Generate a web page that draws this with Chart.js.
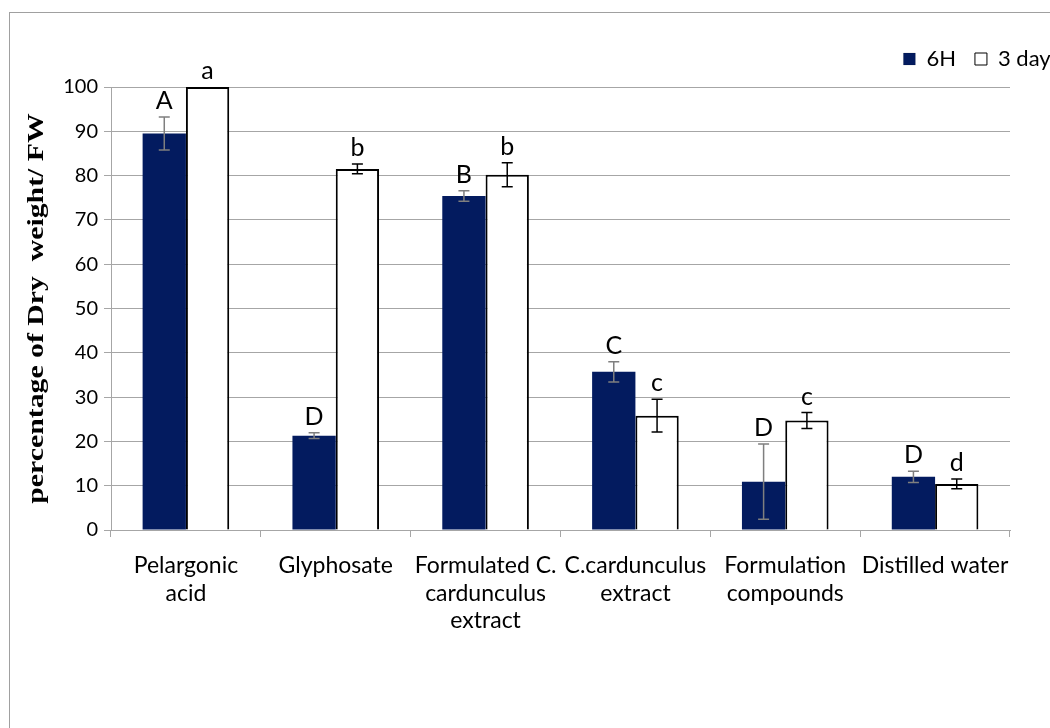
<!DOCTYPE html>
<html>
<head>
<meta charset="utf-8">
<script src="https://cdn.jsdelivr.net/npm/chart.js@4.4.1/dist/chart.umd.min.js"></script>
<style>
  html, body { margin: 0; padding: 0; background: #ffffff; overflow: hidden; }
  #wrap { position: relative; width: 1079px; height: 728px; }
</style>
</head>
<body>
<div id="wrap"><canvas id="chart"></canvas></div>
<script>
// Treatments on the x axis (multi-line labels)
const categories = [
  ['Pelargonic', 'acid'],
  ['Glyphosate'],
  ['Formulated C.', 'cardunculus', 'extract'],
  ['C.cardunculus', 'extract'],
  ['Formulation', 'compounds'],
  ['Distilled water']
];
const seriesNames = ['6H', '3 days'];

// Mean dry weight as % of fresh weight
const values6H   = [89.5, 21.3, 75.4, 35.7, 10.9, 12.0];
const values3d   = [100.0, 81.5, 80.2, 25.8, 24.7, 10.4];

// Error bar half-lengths
const err6H = [3.7, 0.65, 1.2, 2.3, 8.5, 1.25];
const err3d = [0, 1.1, 2.7, 3.7, 1.8, 1.1];

// Significance letters above each bar
const letters6H = ['A', 'D', 'B', 'C', 'D', 'D'];
const letters3d = ['a', 'b', 'b', 'c', 'c', 'd'];

// Value axis
const yMin = 0, yMax = 100, yStep = 10;
const yTitle = 'percentage of Dry  weight/ FW';

const NAVY = '#031b5f';
const GRID = '#a6a6a6';

// Gray frame around the whole figure
const framePlugin = {
  id: 'frame',
  beforeDraw(chart) {
    const ctx = chart.ctx;
    ctx.save();
    ctx.strokeStyle = '#a0a0a0';
    ctx.lineWidth = 1;
    ctx.strokeRect(9.5, 12.5, 3000, 3000);
    ctx.restore();
  }
};

// Leave a little extra room below the legend row
const legendGapPlugin = {
  id: 'legendGap',
  beforeLayout(chart) {
    const lg = chart.legend;
    if (lg && !lg.__gapPatched) {
      const fit = lg.fit;
      lg.fit = function () { fit.call(this); this.height += 7; };
      lg.__gapPatched = true;
    }
  }
};

// Error bars and significance letters, positioned through the chart scales
const annotatePlugin = {
  id: 'annotate',
  afterDatasetsDraw(chart) {
    const ctx = chart.ctx;
    const y = chart.scales.y;
    chart.data.datasets.forEach((ds, di) => {
      const meta = chart.getDatasetMeta(di);
      meta.data.forEach((bar, i) => {
        const v = ds.data[i];
        const e = ds.errors[i];
        const x = bar.x;
        ctx.save();
        if (e > 0) {
          const yHi = y.getPixelForValue(v + e);
          const yLo = y.getPixelForValue(v - e);
          ctx.strokeStyle = ds.errorColor;
          ctx.lineWidth = 1.5;
          ctx.beginPath();
          ctx.moveTo(x, yHi); ctx.lineTo(x, yLo);
          ctx.moveTo(x - 5.5, yHi); ctx.lineTo(x + 5.5, yHi);
          ctx.moveTo(x - 5.5, yLo); ctx.lineTo(x + 5.5, yLo);
          ctx.stroke();
        }
        const top = y.getPixelForValue(v + e);
        ctx.fillStyle = '#000000';
        ctx.font = '25px Lato';
        ctx.textAlign = 'center';
        ctx.textBaseline = 'alphabetic';
        ctx.fillText(ds.letters[i], x, top - 8);
        ctx.restore();
      });
    });
  }
};

// Rotated bold serif title for the value axis
const yTitlePlugin = {
  id: 'yTitle',
  afterDraw(chart) {
    const ctx = chart.ctx;
    const a = chart.chartArea;
    ctx.save();
    ctx.translate(37, (a.top + a.bottom) / 2);
    ctx.rotate(-Math.PI / 2);
    ctx.scale(1.24, 1);
    ctx.font = 'bold 24px "Liberation Serif"';
    ctx.fillStyle = '#000000';
    ctx.textAlign = 'center';
    ctx.textBaseline = 'middle';
    ctx.fillText(yTitle, 0, 0);
    ctx.restore();
  }
};

new Chart(document.getElementById('chart'), {
  type: 'bar',
  data: {
    labels: categories,
    datasets: [
      {
        label: seriesNames[0],
        data: values6H,
        errors: err6H,
        letters: letters6H,
        errorColor: '#7f7f7f',
        backgroundColor: NAVY,
        borderWidth: 0,
        categoryPercentage: 0.578,
        barPercentage: 1.0
      },
      {
        label: seriesNames[1],
        data: values3d,
        errors: err3d,
        letters: letters3d,
        errorColor: '#000000',
        backgroundColor: '#ffffff',
        borderColor: '#000000',
        borderWidth: 2,
        borderSkipped: 'start',
        categoryPercentage: 0.578,
        barPercentage: 1.0
      }
    ]
  },
  options: {
    responsive: true,
    maintainAspectRatio: false,
    animation: false,
    layout: { padding: { top: 29, left: 0, right: 0, bottom: 0 } },
    plugins: {
      tooltip: { enabled: false },
      legend: {
        position: 'top',
        align: 'end',
        labels: {
          boxWidth: 12,
          boxHeight: 12,
          padding: 19,
          color: '#000000',
          font: { family: 'Lato', size: 22 },
          generateLabels(chart) {
            const items = Chart.defaults.plugins.legend.labels.generateLabels(chart);
            items.forEach(it => { it.lineWidth = 1; });
            return items;
          }
        }
      }
    },
    scales: {
      x: {
        offset: true,
        grid: {
          offset: true,
          drawOnChartArea: false,
          drawTicks: true,
          tickLength: 7,
          color: GRID
        },
        border: { color: GRID, width: 1 },
        ticks: {
          color: '#000000',
          font: { family: 'Lato', size: 23, lineHeight: 1.2 },
          maxRotation: 0,
          autoSkip: false,
          padding: 15
        },
        afterFit(scale) { scale.height = 198; }
      },
      y: {
        min: yMin,
        max: yMax,
        grid: { color: GRID, lineWidth: 1, tickLength: 7, drawTicks: true },
        border: { color: GRID, width: 1 },
        ticks: {
          stepSize: yStep,
          color: '#000000',
          font: { family: 'Lato', size: 20 },
          padding: 6
        },
        afterFit(scale) { scale.width = 111; }
      },
      yPad: {
        type: 'linear',
        position: 'right',
        display: true,
        grid: { display: false, drawTicks: false },
        border: { display: false },
        ticks: { display: false },
        afterFit(scale) { scale.width = 69; }
      }
    }
  },
  plugins: [framePlugin, legendGapPlugin, annotatePlugin, yTitlePlugin]
});
</script>
</body>
</html>
